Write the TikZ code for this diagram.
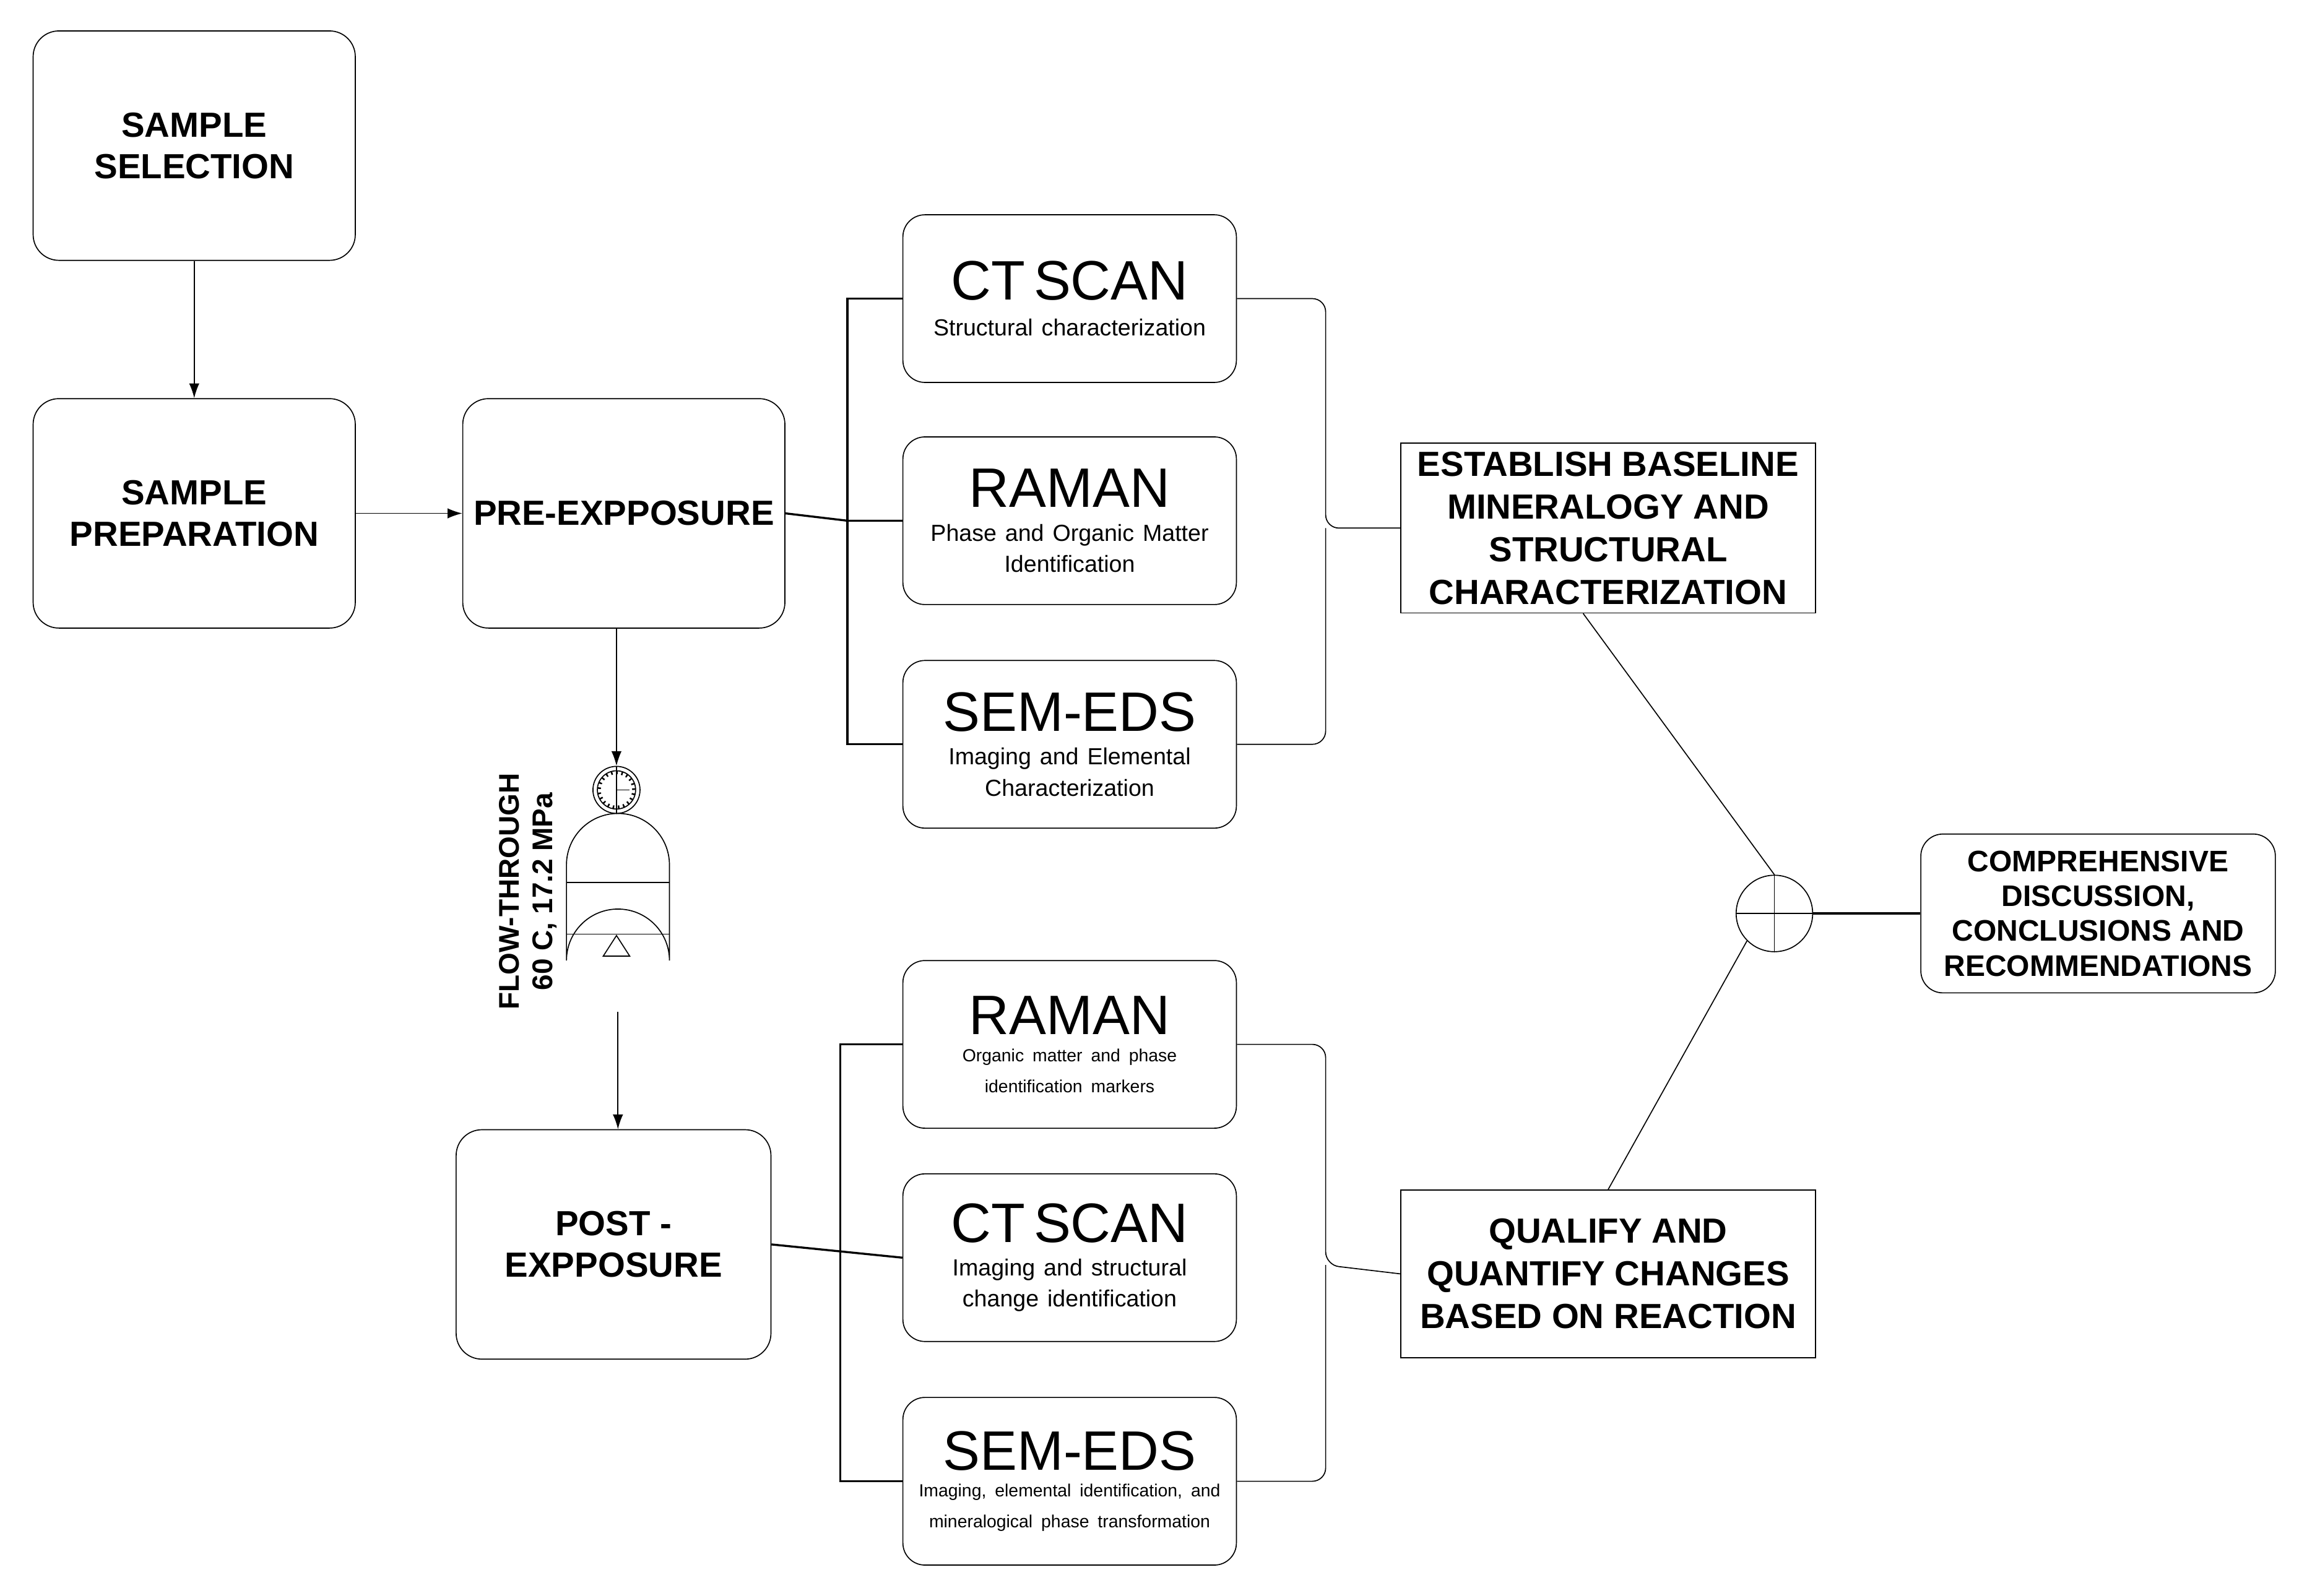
\documentclass[tikz,border=0pt]{standalone}
\usepackage{fontspec}
\setmainfont{Liberation Sans}
\usetikzlibrary{positioning,arrows.meta,calc}

\tikzset{
  stage/.style={draw, rounded corners=0.35cm, minimum width=4.38cm, minimum height=3.12cm,
    align=center, font=\bfseries\fontsize{13.5}{16}\selectfont},
  probe/.style={draw, rounded corners=0.3cm, minimum width=4.38cm, minimum height=2.28cm,
    align=center, text width=4.3cm},
  goal/.style={draw, minimum width=5.64cm, minimum height=2.28cm, align=center,
    font=\bfseries\fontsize{13.5}{16.5}\selectfont},
  flow/.style={-{Latex[length=2mm,width=1.4mm]}},
}
\newcommand{\bigtxt}[1]{{\fontsize{21.5}{24}\selectfont #1}}
\newcommand{\subtxt}[1]{{\fontsize{9}{11}\selectfont #1}}
\newcommand{\tinytxt}[1]{{\fontsize{6.8}{8.5}\selectfont #1}}

\begin{document}
\begin{tikzpicture}[x=0.02cm,y=-0.02cm]
\useasboundingbox (0,0) rectangle (1568,1085);
% stages
\node[stage] (sel) at (132,99) {SAMPLE\\SELECTION};
\node[stage] (prep) at (132,349) {SAMPLE\\PREPARATION};
\node[stage] (pre) at (424,349) {PRE-EXPPOSURE};
\node[stage, minimum width=4.28cm] (post) at (417,846) {POST -\\EXPPOSURE};
% analyses before exposure
\node[probe] (ct1) at (727,203) {\bigtxt{CT SCAN}\\[2pt]\subtxt{Structural characterization}};
\node[probe] (ra1) at (727,354) {\bigtxt{RAMAN}\\[2pt]\subtxt{Phase and Organic Matter\\Identification}};
\node[probe] (se1) at (727,506) {\bigtxt{SEM-EDS}\\[2pt]\subtxt{Imaging and Elemental\\Characterization}};
% analyses after exposure
\node[probe] (ra2) at (727,710) {\bigtxt{RAMAN}\\[2pt]\tinytxt{Organic matter and phase\\identification markers}};
\node[probe] (ct2) at (727,855) {\bigtxt{CT SCAN}\\[2pt]\subtxt{Imaging and structural\\change identification}};
\node[probe] (se2) at (727,1007) {\bigtxt{SEM-EDS}\\[2pt]\tinytxt{Imaging, elemental identification, and\\mineralogical phase transformation}};
% outcomes
\node[goal] (base) at (1093,359) {ESTABLISH BASELINE\\MINERALOGY AND\\STRUCTURAL\\CHARACTERIZATION};
\node[goal] (qual) at (1093,866) {QUALIFY AND\\QUANTIFY CHANGES\\BASED ON REACTION};
\node[draw, circle, minimum size=1.04cm, inner sep=0pt] (sum) at (1206,621) {};
\draw (sum.north) -- (sum.south) (sum.west) -- (sum.east);
\node[draw, rounded corners=0.3cm, minimum width=4.82cm, minimum height=2.16cm, align=center,
  font=\bfseries\fontsize{11.5}{13.5}\selectfont] (end) at (1426,621)
  {COMPREHENSIVE\\DISCUSSION,\\CONCLUSIONS AND\\RECOMMENDATIONS};
% reactor
\node[draw, circle, minimum size=0.64cm, inner sep=0pt] (gauge) at (419,537) {};
\draw (gauge.center) circle (0.26cm);
\draw[dash pattern=on 0.6pt off 1.4pt, line width=1.2pt] (gauge.center) circle (0.235cm);
\draw (gauge.north) -- (gauge.south) (gauge.center) -- ++(9,0);
\draw (385,588) -- (385,653) arc (180:360:35) -- (455,588) arc (0:-180:35) -- cycle;
\coordinate (vbot) at (420,688);
\draw (385,600) -- (455,600) (385,635) -- (455,635);
\draw (419,636) -- (410,650) -- (428,650) -- cycle;
\node[rotate=90, align=center, font=\bfseries\fontsize{11}{13}\selectfont] (cond) at (359,606)
  {FLOW-THROUGH\\60 C, 17.2 MPa};
% arrows
\draw[flow] (sel) -- (prep);
\draw[flow] (prep) -- (pre);
\draw[flow] (pre.south -| gauge) -- (gauge.north);
\draw[flow] (vbot) -- (post.north -| vbot);
% brackets to analyses
\coordinate (k1) at (576,354);
\draw[thick] (pre.east) -- (k1) (ra1.west) -- (k1);
\draw[thick] (ct1.west) -| (k1) |- (se1.west);
\coordinate (k2) at (571,855);
\draw[thick] (post.east) -- (ct2.west);
\draw[thick] (ra2.west) -| (k2) |- (se2.west);
% braces to outcomes
\coordinate (b1) at (901,359);
\draw[rounded corners=0.18cm] (ct1.east) -| (b1) -- (base.west);
\draw[rounded corners=0.18cm] (se1.east) -| (b1);
\coordinate (b2) at (901,860);
\draw[rounded corners=0.18cm] (ra2.east) -| (b2) -- (qual.west);
\draw[rounded corners=0.18cm] (se2.east) -| (b2);
% merge
\draw ($(base.south west)!0.44!(base.south east)$) -- (sum.north);
\draw ($(qual.north west)!0.5!(qual.north east)$) -- (sum.225);
\draw[thick] (sum.east) -- (end.west);
\end{tikzpicture}
\end{document}
